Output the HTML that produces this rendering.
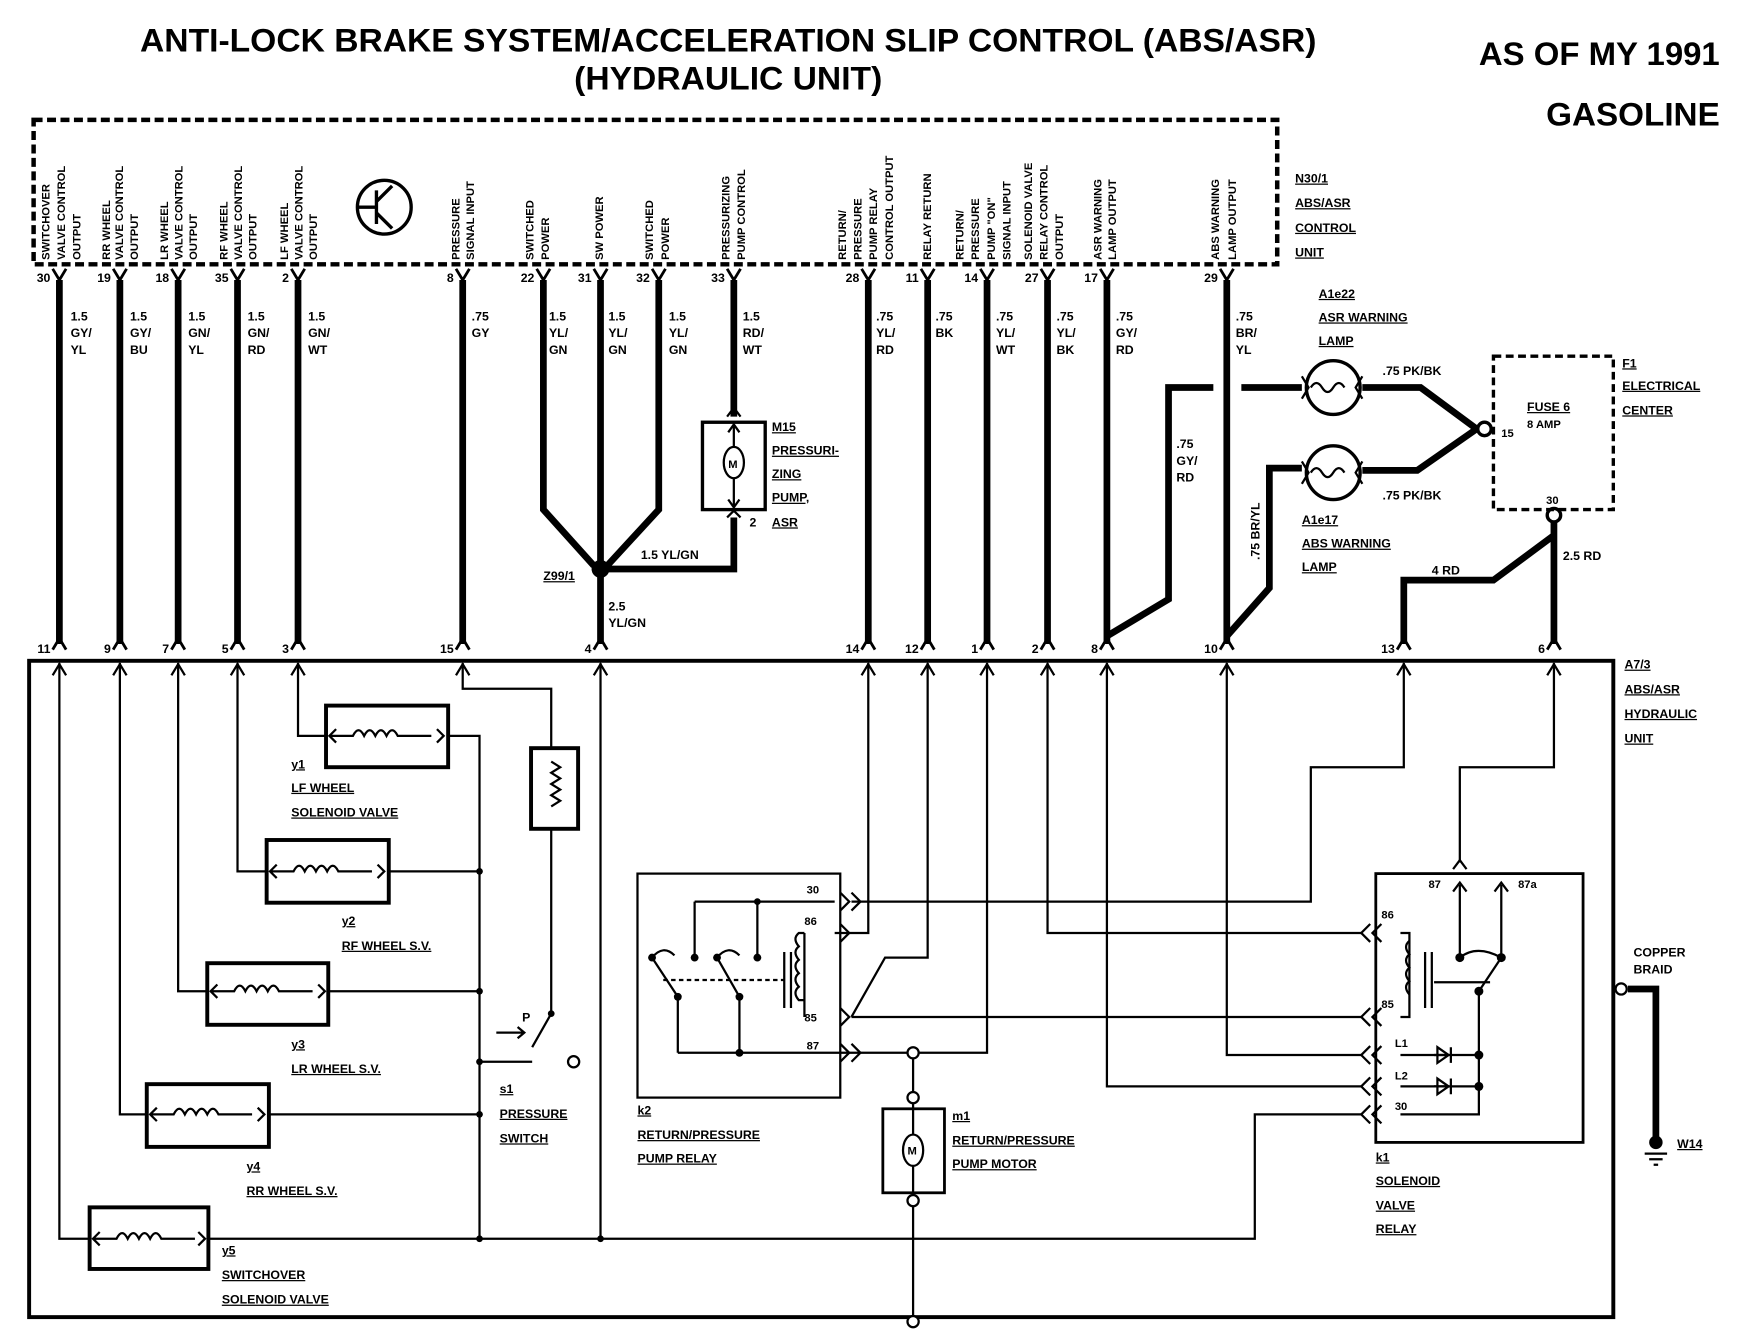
<!DOCTYPE html>
<html><head><meta charset="utf-8"><style>
html,body{margin:0;padding:0;background:#fff}
svg{display:block}
text{font-family:"Liberation Sans",sans-serif;font-weight:bold;fill:#000}
.t{font-size:11px}
.v{font-size:10px}
.s{font-size:12px}
.u{text-decoration:underline}
</style></head><body>
<svg width="1750" height="1344" viewBox="0 0 1562 1200" preserveAspectRatio="none" xmlns="http://www.w3.org/2000/svg">
<rect width="1562" height="1200" fill="#fff"/>
<text x="650" y="46" text-anchor="middle" font-size="29" textLength="1050" lengthAdjust="spacingAndGlyphs">ANTI-LOCK BRAKE SYSTEM/ACCELERATION SLIP CONTROL (ABS/ASR)</text>
<text x="650" y="80" text-anchor="middle" font-size="29" textLength="275" lengthAdjust="spacingAndGlyphs">(HYDRAULIC UNIT)</text>
<text x="1535" y="58" text-anchor="end" font-size="29" textLength="215" lengthAdjust="spacingAndGlyphs">AS OF MY 1991</text>
<text x="1535" y="112" text-anchor="end" font-size="29" textLength="155" lengthAdjust="spacingAndGlyphs">GASOLINE</text>

<rect x="30" y="107" width="1110" height="129" fill="none" stroke="#000" stroke-width="4" stroke-dasharray="8,4"/>
<g class="t"><text x="1156" y="163" class="u">N30/1</text><text x="1156" y="185" class="u">ABS/ASR</text><text x="1156" y="207" class="u">CONTROL</text><text x="1156" y="229" class="u">UNIT</text></g>
<circle cx="343" cy="185" r="24" fill="none" stroke="#000" stroke-width="3"/>
<path d="M320 185h16M336 170v30M336 180l14-14M336 190l14 14" stroke="#000" stroke-width="3" fill="none"/>

<g class="v">
<text transform="translate(44,232) rotate(-90)">SWITCHOVER</text><text transform="translate(58,232) rotate(-90)">VALVE CONTROL</text><text transform="translate(72,232) rotate(-90)">OUTPUT</text>
<text transform="translate(98,232) rotate(-90)">RR WHEEL</text><text transform="translate(110,232) rotate(-90)">VALVE CONTROL</text><text transform="translate(123,232) rotate(-90)">OUTPUT</text>
<text transform="translate(150,232) rotate(-90)">LR WHEEL</text><text transform="translate(163,232) rotate(-90)">VALVE CONTROL</text><text transform="translate(176,232) rotate(-90)">OUTPUT</text>
<text transform="translate(203,232) rotate(-90)">RF WHEEL</text><text transform="translate(216,232) rotate(-90)">VALVE CONTROL</text><text transform="translate(229,232) rotate(-90)">OUTPUT</text>
<text transform="translate(257,232) rotate(-90)">LF WHEEL</text><text transform="translate(270,232) rotate(-90)">VALVE CONTROL</text><text transform="translate(283,232) rotate(-90)">OUTPUT</text>
<text transform="translate(410,232) rotate(-90)">PRESSURE</text><text transform="translate(423,232) rotate(-90)">SIGNAL INPUT</text>
<text transform="translate(476,232) rotate(-90)">SWITCHED</text><text transform="translate(490,232) rotate(-90)">POWER</text>
<text transform="translate(538,232) rotate(-90)">SW POWER</text>
<text transform="translate(583,232) rotate(-90)">SWITCHED</text><text transform="translate(597,232) rotate(-90)">POWER</text>
<text transform="translate(651,232) rotate(-90)">PRESSURIZING</text><text transform="translate(665,232) rotate(-90)">PUMP CONTROL</text>
<text transform="translate(755,232) rotate(-90)">RETURN/</text><text transform="translate(769,232) rotate(-90)">PRESSURE</text><text transform="translate(783,232) rotate(-90)">PUMP RELAY</text><text transform="translate(797,232) rotate(-90)">CONTROL OUTPUT</text>
<text transform="translate(831,232) rotate(-90)">RELAY RETURN</text>
<text transform="translate(860,232) rotate(-90)">RETURN/</text><text transform="translate(874,232) rotate(-90)">PRESSURE</text><text transform="translate(888,232) rotate(-90)">PUMP "ON"</text><text transform="translate(902,232) rotate(-90)">SIGNAL INPUT</text>
<text transform="translate(921,232) rotate(-90)">SOLENOID VALVE</text><text transform="translate(935,232) rotate(-90)">RELAY CONTROL</text><text transform="translate(949,232) rotate(-90)">OUTPUT</text>
<text transform="translate(983,232) rotate(-90)">ASR WARNING</text><text transform="translate(996,232) rotate(-90)">LAMP OUTPUT</text>
<text transform="translate(1088,232) rotate(-90)">ABS WARNING</text><text transform="translate(1103,232) rotate(-90)">LAMP OUTPUT</text>
</g>

<g class="t" text-anchor="end">
<text x="45" y="252">30</text><text x="99" y="252">19</text><text x="151" y="252">18</text><text x="204" y="252">35</text><text x="258" y="252">2</text>
<text x="405" y="252">8</text><text x="477" y="252">22</text><text x="528" y="252">31</text><text x="580" y="252">32</text><text x="647" y="252">33</text>
<text x="767" y="252">28</text><text x="820" y="252">11</text><text x="873" y="252">14</text><text x="927" y="252">27</text><text x="980" y="252">17</text><text x="1087" y="252">29</text>
<text x="45" y="583">11</text><text x="99" y="583">9</text><text x="151" y="583">7</text><text x="204" y="583">5</text><text x="258" y="583">3</text>
<text x="405" y="583">15</text><text x="528" y="583">4</text><text x="767" y="583">14</text><text x="820" y="583">12</text><text x="873" y="583">1</text><text x="927" y="583">2</text><text x="980" y="583">8</text><text x="1087" y="583">10</text><text x="1245" y="583">13</text><text x="1379" y="583">6</text>
</g>
<g stroke="#000" stroke-width="2.5" fill="none">
<path d="M47 240l6 10 6-10M101 240l6 10 6-10M153 240l6 10 6-10M206 240l6 10 6-10M260 240l6 10 6-10M407 240l6 10 6-10M479 240l6 10 6-10M530 240l6 10 6-10M582 240l6 10 6-10M649 240l6 10 6-10M769 240l6 10 6-10M822 240l6 10 6-10M875 240l6 10 6-10M929 240l6 10 6-10M982 240l6 10 6-10M1089 240l6 10 6-10"/>
<path d="M47 580l6-10 6 10M101 580l6-10 6 10M153 580l6-10 6 10M206 580l6-10 6 10M260 580l6-10 6 10M407 580l6-10 6 10M530 580l6-10 6 10M769 580l6-10 6 10M822 580l6-10 6 10M875 580l6-10 6 10M929 580l6-10 6 10M982 580l6-10 6 10M1089 580l6-10 6 10M1247 580l6-10 6 10M1381 580l6-10 6 10"/>
</g>

<g stroke="#000" stroke-width="6" fill="none">
<path d="M53 250V575M107 250V575M159 250V575M212 250V575M266 250V575M413 250V575"/>
<path d="M485 250V455L530 505M536 250V575M588 250V455L542 505M655 250V372M655 462V508H536"/>
<path d="M775 250V575M828 250V575M881 250V575M935 250V575M988 250V575M1095 250V575"/>
<path d="M988 568L1043 535V346H1083M1108 346H1162"/>
<path d="M1095 568L1133 525V418H1162"/>
<path d="M1216 346H1268L1318 383L1265 420H1216"/>
<path d="M1387 466V575M1387 478L1333 518H1253V575"/>
<path d="M1453 883H1478V1020"/>
</g>
<circle cx="536" cy="508" r="8" fill="#000"/>
<g class="t">
<text x="63" y="286">1.5</text><text x="63" y="301">GY/</text><text x="63" y="316">YL</text>
<text x="116" y="286">1.5</text><text x="116" y="301">GY/</text><text x="116" y="316">BU</text>
<text x="168" y="286">1.5</text><text x="168" y="301">GN/</text><text x="168" y="316">YL</text>
<text x="221" y="286">1.5</text><text x="221" y="301">GN/</text><text x="221" y="316">RD</text>
<text x="275" y="286">1.5</text><text x="275" y="301">GN/</text><text x="275" y="316">WT</text>
<text x="421" y="286">.75</text><text x="421" y="301">GY</text>
<text x="490" y="286">1.5</text><text x="490" y="301">YL/</text><text x="490" y="316">GN</text>
<text x="543" y="286">1.5</text><text x="543" y="301">YL/</text><text x="543" y="316">GN</text>
<text x="597" y="286">1.5</text><text x="597" y="301">YL/</text><text x="597" y="316">GN</text>
<text x="663" y="286">1.5</text><text x="663" y="301">RD/</text><text x="663" y="316">WT</text>
<text x="782" y="286">.75</text><text x="782" y="301">YL/</text><text x="782" y="316">RD</text>
<text x="835" y="286">.75</text><text x="835" y="301">BK</text>
<text x="889" y="286">.75</text><text x="889" y="301">YL/</text><text x="889" y="316">WT</text>
<text x="943" y="286">.75</text><text x="943" y="301">YL/</text><text x="943" y="316">BK</text>
<text x="996" y="286">.75</text><text x="996" y="301">GY/</text><text x="996" y="316">RD</text>
<text x="1103" y="286">.75</text><text x="1103" y="301">BR/</text><text x="1103" y="316">YL</text>
<text x="1050" y="400">.75</text><text x="1050" y="415">GY/</text><text x="1050" y="430">RD</text>
<text transform="translate(1124,500) rotate(-90)">.75 BR/YL</text>
<text x="572" y="499">1.5 YL/GN</text>
<text x="543" y="545">2.5</text><text x="543" y="560">YL/GN</text>
<text x="485" y="518" class="u">Z99/1</text>
<text x="1234" y="335">.75 PK/BK</text><text x="1234" y="446">.75 PK/BK</text>
<text x="1278" y="513">4 RD</text><text x="1395" y="500">2.5 RD</text>
<text x="1177" y="266" class="u">A1e22</text><text x="1177" y="287" class="u">ASR WARNING</text><text x="1177" y="308" class="u">LAMP</text>
<text x="1162" y="468" class="u">A1e17</text><text x="1162" y="489" class="u">ABS WARNING</text><text x="1162" y="510" class="u">LAMP</text>
<text x="1448" y="328" class="u">F1</text><text x="1448" y="348" class="u">ELECTRICAL</text><text x="1448" y="370" class="u">CENTER</text>
<text x="1363" y="367" class="u" font-size="11">FUSE 6</text><text x="1363" y="382" font-size="10">8 AMP</text>
<text x="1340" y="390" font-size="10">15</text><text x="1380" y="450" font-size="10">30</text>
<text x="689" y="385" class="u">M15</text><text x="689" y="406" class="u">PRESSURI-</text><text x="689" y="427" class="u">ZING</text><text x="689" y="448" class="u">PUMP,</text><text x="689" y="470" class="u">ASR</text>
<text x="669" y="470">2</text>
</g>
<g stroke="#000" stroke-width="3" fill="#fff">
<circle cx="1190" cy="346" r="24"/><circle cx="1190" cy="422" r="24"/>
<circle cx="1325" cy="383" r="6"/><circle cx="1387" cy="460" r="6"/>
</g>
<g stroke="#000" stroke-width="2" fill="none">
<path d="M1170 346q5-8 10 0t10 0 10 0M1170 422q5-8 10 0t10 0 10 0"/>
<path d="M1162 336l6 10-6 10M1216 336l-6 10 6 10M1162 412l6 10-6 10M1216 412l-6 10 6 10"/>
</g>
<rect x="1333" y="318" width="107" height="137" fill="none" stroke="#000" stroke-width="3" stroke-dasharray="7,4"/>
<rect x="627" y="377" width="56" height="78" fill="none" stroke="#000" stroke-width="3"/>
<ellipse cx="655" cy="413" rx="9" ry="14" fill="none" stroke="#000" stroke-width="2"/>
<text x="650" y="418" font-size="10">M</text>
<path d="M655 380v20M655 427v25M650 386l5-7 5 7M650 446l5 7 5-7M649 372l6-8 6 8M649 462l6-6 6 6" stroke="#000" stroke-width="2" fill="none"/>

<rect x="26" y="590" width="1414" height="586" fill="none" stroke="#000" stroke-width="3.5"/>
<g class="t"><text x="1450" y="597" class="u">A7/3</text><text x="1450" y="619" class="u">ABS/ASR</text><text x="1450" y="641" class="u">HYDRAULIC</text><text x="1450" y="663" class="u">UNIT</text>
<text x="1458" y="854">COPPER</text><text x="1458" y="869">BRAID</text><text x="1497" y="1025" class="u">W14</text></g>
<circle cx="1447" cy="883" r="5" fill="#fff" stroke="#000" stroke-width="2"/>
<circle cx="1478" cy="1020" r="6" fill="#000"/>
<path d="M1468 1030h20M1472 1035h12M1476 1040h4" stroke="#000" stroke-width="2"/>

<g stroke="#000" stroke-width="2" fill="none">
<path d="M53 592V1106H80M107 592V995H131M159 592V885H185M212 592V778H238M266 592V657H291"/>
<path d="M400 657H428V1106M347 778H428M293 885H428M240 995H428M186 1106H1120V995H1215"/>
<path d="M536 592V1106"/>
<path d="M413 592V615H492V668M492 740V905L475 935M428 948H475"/>
<path d="M775 592V833H745M828 592V855H790L760 908M760 908H1215M750 940H881V592"/>
<path d="M760 805H1170V685H1253V592M935 592V833H1215M1095 592V942H1215M988 592V970H1215"/>
<path d="M1387 592V685H1303V770M1340 790V855"/>
<path d="M1250 833H1258V908H1250M1303 790V855M1320 885V995H1250M1250 942H1320M1250 970H1320"/>
<path d="M620 805V855M676 805V855M620 805H745M605 890V940M660 890V940M605 940H750M718 833V908"/>
</g>
<g stroke="#000" stroke-width="2" fill="none">
<path d="M47 603l6-10 6 10M101 603l6-10 6 10M153 603l6-10 6 10M206 603l6-10 6 10M260 603l6-10 6 10M407 603l6-10 6 10M530 603l6-10 6 10M769 603l6-10 6 10M822 603l6-10 6 10M875 603l6-10 6 10M929 603l6-10 6 10M982 603l6-10 6 10M1089 603l6-10 6 10M1247 603l6-10 6 10M1381 603l6-10 6 10"/>
<path d="M750 797l8 8-8 8M750 825l8 8-8 8M750 900l8 8-8 8M750 932l8 8-8 8M760 797l8 8-8 8M760 932l8 8-8 8"/>
<path d="M1223 825l-8 8 8 8M1223 900l-8 8 8 8M1223 934l-8 8 8 8M1223 962l-8 8 8 8M1223 987l-8 8 8 8M1233 825l-8 8 8 8M1233 900l-8 8 8 8M1233 934l-8 8 8 8M1233 962l-8 8 8 8M1233 987l-8 8 8 8"/>
<path d="M1297 776l6-8 6 8M1297 796l6-8 6 8M1334 796l6-8 6 8"/>
</g>
<g stroke="#000" fill="none">
<rect x="291" y="630" width="109" height="55" stroke-width="3.5"/>
<rect x="238" y="750" width="109" height="56" stroke-width="3.5"/>
<rect x="185" y="860" width="108" height="55" stroke-width="3.5"/>
<rect x="131" y="968" width="109" height="56" stroke-width="3.5"/>
<rect x="80" y="1078" width="106" height="55" stroke-width="3.5"/>
<g stroke-width="2">
<path d="M295 657h20q5-10 10 0q5-10 10 0q5-10 10 0q5-10 10 0h30M300 651l-6 6 6 6M390 651l6 6-6 6"/>
<path d="M242 778h20q5-10 10 0q5-10 10 0q5-10 10 0q5-10 10 0h30M247 772l-6 6 6 6M337 772l6 6-6 6"/>
<path d="M189 885h20q5-10 10 0q5-10 10 0q5-10 10 0q5-10 10 0h30M194 879l-6 6 6 6M284 879l6 6-6 6"/>
<path d="M135 995h20q5-10 10 0q5-10 10 0q5-10 10 0q5-10 10 0h30M140 989l-6 6 6 6M230 989l6 6-6 6"/>
<path d="M84 1106h20q5-10 10 0q5-10 10 0q5-10 10 0q5-10 10 0h30M89 1100l-6 6 6 6M177 1100l6 6-6 6"/>
</g>
<rect x="474" y="668" width="42" height="72" stroke-width="3.5"/>
<path d="M492 680l8 5-8 5 8 5-8 5 8 5-8 5 8 5-8 5" stroke-width="2"/>
</g>
<g fill="#000"><circle cx="428" cy="778" r="3"/><circle cx="428" cy="885" r="3"/><circle cx="428" cy="995" r="3"/><circle cx="428" cy="1106" r="3"/><circle cx="428" cy="948" r="3"/><circle cx="536" cy="1106" r="3"/><circle cx="492" cy="905" r="3"/></g>
<circle cx="512" cy="948" r="5" fill="#fff" stroke="#000" stroke-width="2"/>
<path d="M443 922h24M462 917l6 5-6 5" stroke="#000" stroke-width="2" fill="none"/>
<text x="466" y="912" class="t">P</text>
<rect x="569" y="780" width="181" height="200" fill="none" stroke="#000" stroke-width="2"/>
<rect x="1228" y="780" width="185" height="240" fill="none" stroke="#000" stroke-width="2.5"/>
<g stroke="#000" stroke-width="2" fill="none">
<path d="M582 855L605 890M640 855L660 890M582 855q10-12 20-2M640 855q10-12 20-2"/>
<path d="M592 875H700" stroke-dasharray="4,3"/>
<path d="M718 833h-5q-6 5 0 12-6 5 0 12-6 5 0 12-6 5 0 12-6 5 0 12h5M700 850v50M706 850v50"/>
<path d="M1258 840q-6 5 0 12-6 5 0 12-6 5 0 12-6 5 0 12M1272 850v50M1278 850v50M1280 877H1330" stroke-width="2"/>
<path d="M1320 885L1340 855M1303 855q15-12 37 0"/>
<path d="M1280 942h12M1283 935v14l10-7zM1295 935v14M1280 970h12M1283 963v14l10-7zM1295 963v14"/>
</g>
<g fill="#000"><circle cx="582" cy="855" r="3.5"/><circle cx="620" cy="855" r="3.5"/><circle cx="640" cy="855" r="3.5"/><circle cx="676" cy="855" r="3.5"/><circle cx="605" cy="890" r="3.5"/><circle cx="660" cy="890" r="3.5"/><circle cx="660" cy="940" r="3.5"/><circle cx="676" cy="805" r="3"/>
<circle cx="1303" cy="855" r="4"/><circle cx="1340" cy="855" r="4"/><circle cx="1320" cy="885" r="4"/><circle cx="1320" cy="942" r="4"/><circle cx="1320" cy="970" r="4"/></g>
<path d="M815 940V1180" stroke="#000" stroke-width="2"/>
<circle cx="815" cy="940" r="5" fill="#fff" stroke="#000" stroke-width="2"/>
<rect x="788" y="990" width="55" height="75" fill="#fff" stroke="#000" stroke-width="2.5"/>
<path d="M815 990V1065" stroke="#000" stroke-width="2"/>
<ellipse cx="815" cy="1027" rx="9" ry="14" fill="#fff" stroke="#000" stroke-width="2"/>
<text x="810" y="1031" font-size="10">M</text>
<circle cx="815" cy="980" r="5" fill="#fff" stroke="#000" stroke-width="2"/><circle cx="815" cy="1072" r="5" fill="#fff" stroke="#000" stroke-width="2"/><circle cx="815" cy="1180" r="5" fill="#fff" stroke="#000" stroke-width="2"/>
<g class="v"><text x="720" y="798">30</text><text x="718" y="826">86</text><text x="718" y="912">85</text><text x="720" y="937">87</text>
<text x="1233" y="820">86</text><text x="1233" y="900">85</text><text x="1245" y="935">L1</text><text x="1245" y="964">L2</text><text x="1245" y="991">30</text><text x="1275" y="793">87</text><text x="1355" y="793">87a</text></g>
<g class="t">
<text x="260" y="686" class="u">y1</text><text x="260" y="707" class="u">LF WHEEL</text><text x="260" y="729" class="u">SOLENOID VALVE</text>
<text x="305" y="826" class="u">y2</text><text x="305" y="848" class="u">RF WHEEL S.V.</text>
<text x="260" y="936" class="u">y3</text><text x="260" y="958" class="u">LR WHEEL S.V.</text>
<text x="220" y="1045" class="u">y4</text><text x="220" y="1067" class="u">RR WHEEL S.V.</text>
<text x="198" y="1120" class="u">y5</text><text x="198" y="1142" class="u">SWITCHOVER</text><text x="198" y="1164" class="u">SOLENOID VALVE</text>
<text x="446" y="976" class="u">s1</text><text x="446" y="998" class="u">PRESSURE</text><text x="446" y="1020" class="u">SWITCH</text>
<text x="569" y="995" class="u">k2</text><text x="569" y="1017" class="u">RETURN/PRESSURE</text><text x="569" y="1038" class="u">PUMP RELAY</text>
<text x="850" y="1000" class="u">m1</text><text x="850" y="1022" class="u">RETURN/PRESSURE</text><text x="850" y="1043" class="u">PUMP MOTOR</text>
<text x="1228" y="1037" class="u">k1</text><text x="1228" y="1058" class="u">SOLENOID</text><text x="1228" y="1080" class="u">VALVE</text><text x="1228" y="1101" class="u">RELAY</text>
</g>
</svg>
</body></html>
